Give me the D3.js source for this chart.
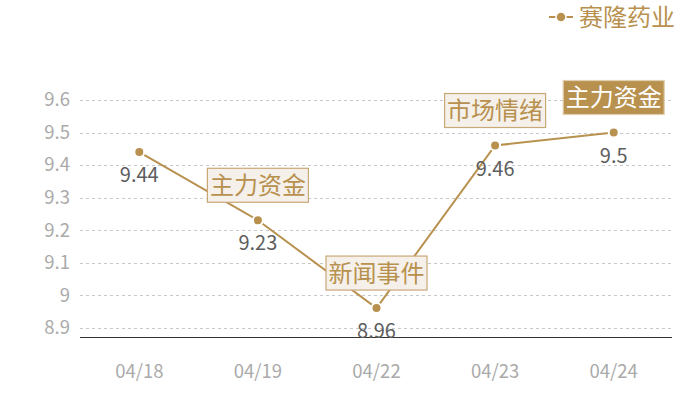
<!DOCTYPE html>
<html>
<head>
<meta charset="utf-8">
<script src="https://cdn.jsdelivr.net/npm/d3@7"></script>
<style>
  body { margin: 0; background: #fff; }
  text { font-family: "Noto Sans CJK SC", "Noto Sans", sans-serif; }
</style>
</head>
<body>
<svg id="viz"></svg>
<script>
const dates = ["04/18", "04/19", "04/22", "04/23", "04/24"];
const prices = [9.44, 9.23, 8.96, 9.46, 9.5];
const yTicks = [8.9, 9.0, 9.1, 9.2, 9.3, 9.4, 9.5, 9.6];
const notes = [
  { date: "04/19", text: "主力资金", filled: false },
  { date: "04/22", text: "新闻事件", filled: false },
  { date: "04/23", text: "市场情绪", filled: false },
  { date: "04/24", text: "主力资金", filled: true }
];
const seriesName = "赛隆药业";

const width = 700, height = 400;
const plotLeft = 80, plotRight = 673, plotTop = 100, plotBottom = 337;
const gold = "#b8914f";

const svg = d3.select("#viz").attr("width", width).attr("height", height);

const x = d3.scaleBand().domain(dates).range([plotLeft, plotRight]);
const y = d3.scaleLinear().domain([8.871, 9.6]).range([plotBottom, plotTop]);
const cx = d => x(d) + x.bandwidth() / 2;

// grid
svg.append("g").selectAll("line").data(yTicks).enter().append("line")
  .attr("x1", plotLeft).attr("x2", plotRight - 1)
  .attr("y1", d => Math.round(y(d)) + 0.5).attr("y2", d => Math.round(y(d)) + 0.5)
  .attr("stroke", "#c8c8c8").attr("stroke-dasharray", "3,3");

// y labels
svg.append("g").selectAll("text").data(yTicks).enter().append("text")
  .attr("x", 70).attr("y", d => y(d)).attr("dy", "0.35em")
  .attr("text-anchor", "end").attr("fill", "#aaa").style("font-size", "18.5px")
  .text(d => d3.format("~g")(d));

// x axis
svg.append("line").attr("x1", plotLeft).attr("x2", plotRight - 1)
  .attr("y1", plotBottom + 0.5).attr("y2", plotBottom + 0.5).attr("stroke", "#333");
svg.append("g").selectAll("text").data(dates).enter().append("text")
  .attr("x", d => cx(d)).attr("y", 378)
  .attr("text-anchor", "middle").attr("fill", "#aaa").style("font-size", "18.5px")
  .text(d => d);

// line
const pts = dates.map((d, i) => [cx(d), y(prices[i])]);
svg.append("path").attr("d", d3.line()(pts))
  .attr("fill", "none").attr("stroke", gold).attr("stroke-width", 2);
svg.append("g").selectAll("circle").data(pts).enter().append("circle")
  .attr("cx", d => d[0]).attr("cy", d => d[1]).attr("r", 5)
  .attr("fill", gold).attr("stroke", "#fff").attr("stroke-width", 2);

// value labels
svg.append("g").selectAll("text").data(prices).enter().append("text")
  .attr("x", (d, i) => cx(dates[i])).attr("y", d => y(d) + 30)
  .attr("text-anchor", "middle").attr("fill", "#5e5e5e").style("font-size", "20px")
  .text(d => d);

// annotations
const boxW = 102, boxH = 35;
const note = svg.append("g").selectAll("g").data(notes).enter().append("g")
  .attr("transform", d => {
    const i = dates.indexOf(d.date);
    return `translate(${cx(d.date) - boxW / 2}, ${y(prices[i]) - 17.5 - boxH})`;
  });
note.append("rect").attr("x", 0.5).attr("y", 0.5).attr("width", boxW - 1).attr("height", boxH - 1)
  .attr("fill", d => d.filled ? gold : "#f5f0ea")
  .attr("stroke", d => d.filled ? "#e0cfb0" : "#c9a878").attr("stroke-width", 1.2);
note.append("text").attr("x", boxW / 2).attr("y", boxH / 2).attr("dy", "0.36em")
  .attr("text-anchor", "middle").attr("fill", d => d.filled ? "#fff" : gold)
  .style("font-size", "24px").text(d => d.text);

// legend
const legend = svg.append("g").attr("transform", "translate(549, 17)");
legend.append("line").attr("x1", 0).attr("x2", 24).attr("y1", 0).attr("y2", 0)
  .attr("stroke", gold).attr("stroke-width", 2);
legend.append("circle").attr("cx", 12).attr("cy", 0).attr("r", 5)
  .attr("fill", gold).attr("stroke", "#fff").attr("stroke-width", 1.5);
legend.append("text").attr("x", 30).attr("y", 0).attr("dy", "0.36em")
  .attr("fill", gold).style("font-size", "24px").text(seriesName);
</script>
</body>
</html>
